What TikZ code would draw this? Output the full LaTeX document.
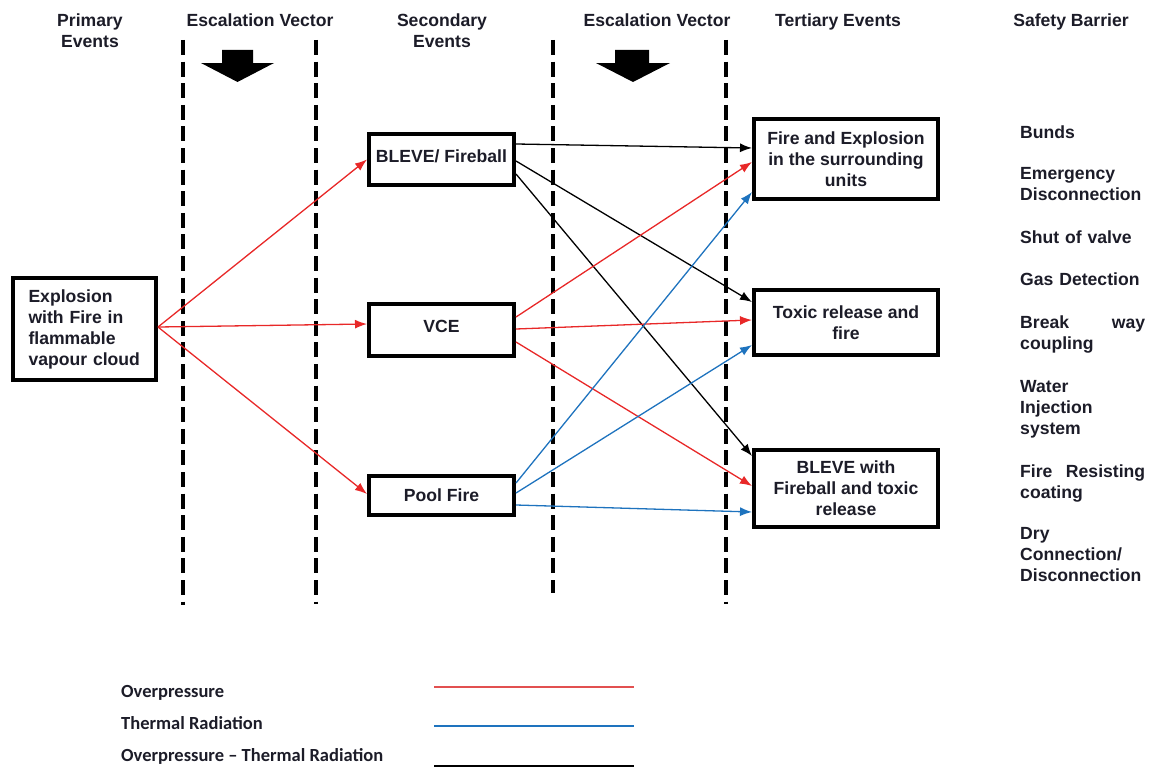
\documentclass[tikz,border=0pt]{standalone}
\usepackage{fontspec}
\setmainfont{Liberation Sans}
\newfontfamily\legfont[Ligatures=TeX]{Carlito}
\usetikzlibrary{arrows.meta,calc}
\definecolor{ored}{RGB}{232,40,40}
\definecolor{lred}{RGB}{226,80,80}
\definecolor{tblue}{RGB}{30,115,190}
\definecolor{txt}{RGB}{28,28,40}
\begin{document}
\begin{tikzpicture}[x=1pt,y=-1pt,
  every node/.style={font=\bfseries\fontsize{17.6}{21}\selectfont, text=txt, inner sep=0pt},
  box/.style={draw=black, line width=4pt, align=center, fill=white},
  vline/.style={line width=4pt, dash pattern=on 15pt off 6.6pt},
  conn/.style={line width=1.3pt, -{Latex[length=12pt,width=9pt]}},
  hdr/.style={anchor=north, align=center},
  bar/.style={anchor=north west, align=left, text width=125pt},
  leg/.style={anchor=base west, font=\legfont\bfseries\fontsize{18.5}{22}\selectfont},
  legline/.style={line width=1.6pt}]
\useasboundingbox (0,0) rectangle (1155,768);

% headers
\node[hdr] (hprim) at (90,14) {Primary\\Events};
\node[hdr] (hesc1) at (260,14) {Escalation Vector};
\node[hdr] (hsec) at (442,14) {Secondary\\Events};
\node[hdr] (hesc2) at (657,14) {Escalation Vector};
\node[hdr] (hter) at (838,14) {Tertiary Events};
\node[hdr] (hsaf) at (1071,14) {Safety Barrier};

% dashed separators
\draw[vline] (183,40) -- (183,605);
\draw[vline] (316,40) -- (316,604);
\draw[vline] (553,40) -- (553,593);
\draw[vline] (726,40) -- (726,604);

% block arrows
\fill[black] (222,50) -- (253,50) -- (253,63) -- (274,63) -- (237.5,82) -- (201,63) -- (222,63) -- cycle;
\fill[black] (615,50) -- (649,50) -- (649,63) -- (670,63) -- (633,82) -- (596,63) -- (615,63) -- cycle;

% boxes
\node[box, minimum width=143pt, minimum height=102pt, text width=112pt, align=left] (prim) at (84.5,329)
  {Explosion\\with Fire in\\flammable\\vapour cloud};
\node[box, minimum width=145pt, minimum height=51pt] (bleve) at (441.5,159.5) {\raisebox{7pt}{BLEVE/ Fireball}};
\node[box, minimum width=145pt, minimum height=52pt] (vce) at (441.5,330) {\raisebox{7pt}{VCE}};
\node[box, minimum width=145pt, minimum height=39pt] (pool) at (441.5,495.5) {Pool Fire};
\node[box, minimum width=184pt, minimum height=80pt] (fire) at (846,159) {Fire and Explosion\\in the surrounding\\units};
\node[box, minimum width=184pt, minimum height=65pt] (toxic) at (846,322.5) {Toxic release and\\fire};
\node[box, minimum width=184pt, minimum height=77pt] (blevet) at (846,488.5) {BLEVE with\\Fireball and toxic\\release};

% primary -> secondary
\draw[conn, ored] ([yshift=2pt]prim.east) -- (bleve.west);
\draw[conn, ored] ([yshift=2pt]prim.east) -- ([yshift=6pt]vce.west);
\draw[conn, ored] ([yshift=2pt]prim.east) -- ([yshift=1.5pt]pool.west);

% BLEVE/Fireball -> tertiary
\draw[conn, black] ([yshift=15.5pt]bleve.east) -- ([yshift=11pt]fire.west);
\draw[conn, black] ([yshift=-1.5pt]bleve.east) -- ([yshift=20.5pt]toxic.west);
\draw[conn, black] ([yshift=-14.5pt]bleve.east) -- ([yshift=32.5pt]blevet.west);

% VCE -> tertiary
\draw[conn, ored] ([yshift=13pt]vce.east) -- ([yshift=-3pt]fire.west);
\draw[conn, ored] ([yshift=1pt]vce.east) -- ([yshift=2.5pt]toxic.west);
\draw[conn, ored] ([yshift=-12pt]vce.east) -- ([yshift=2.5pt]blevet.west);

% Pool fire -> tertiary
\draw[conn, tblue] ([yshift=12.5pt]pool.east) -- ([yshift=-33pt]fire.west);
\draw[conn, tblue] ([yshift=2.5pt]pool.east) -- ([yshift=-22.5pt]toxic.west);
\draw[conn, tblue] ([yshift=-9.5pt]pool.east) -- ([yshift=-23.5pt]blevet.west);

% safety barriers
\node[bar] (b1) at (1020,125.6) {Bunds};
\node[bar] (b2) at (1020,167.6) {Emergency\\Disconnection};
\node[bar] (b3) at (1020,230.6) {Shut of valve};
\node[bar] (b4) at (1020,272.6) {Gas Detection};
\node[bar] (b5) at (1020,315.6) {Break\hfill way\\coupling};
\node[bar] (b6) at (1020,380.6) {Water\\Injection\\system};
\node[bar] (b7) at (1020,464.6) {Fire\hfill Resisting\\coating};
\node[bar] (b8) at (1020,527.6) {Dry\\Connection/\\Disconnection};

% legend
\node[leg] (l1) at (121,697) {Overpressure};
\node[leg] (l2) at (121,729) {Thermal Radiation};
\node[leg] (l3) at (121,761) {Overpressure – Thermal Radiation};
\draw[legline, lred] (434,687) -- (634,687);
\draw[legline, tblue] (434,726) -- (634,726);
\draw[legline, black] (434,766) -- (634,766);
\end{tikzpicture}
\end{document}
